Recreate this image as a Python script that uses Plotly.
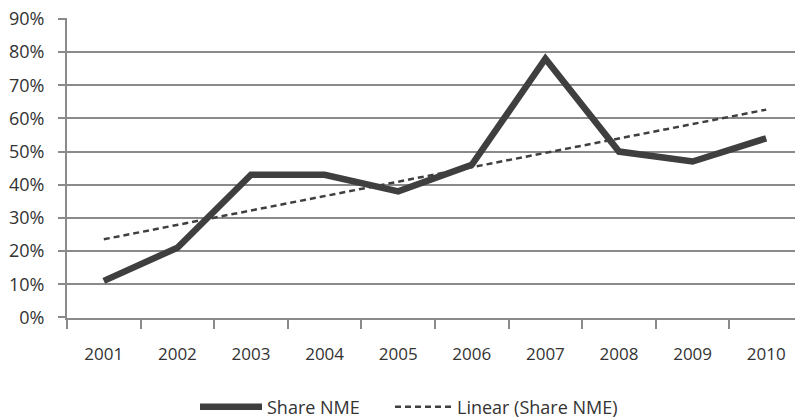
import numpy as np
import plotly.graph_objects as go

years = ["2001", "2002", "2003", "2004", "2005", "2006", "2007", "2008", "2009", "2010"]
share_nme = [0.11, 0.21, 0.43, 0.43, 0.38, 0.46, 0.78, 0.50, 0.47, 0.54]
y_ticks = [0, 0.1, 0.2, 0.3, 0.4, 0.5, 0.6, 0.7, 0.8, 0.9]
y_tick_labels = ["0%", "10%", "20%", "30%", "40%", "50%", "60%", "70%", "80%", "90%"]

x = np.arange(1, len(years) + 1)
slope, intercept = np.polyfit(x, share_nme, 1)
trend = slope * x + intercept

grid_col = "#8a8a8a"
line_col = "#3f3f3f"
text_col = "#333333"
font_fam = "Open Sans, Noto Sans, sans-serif"

fig = go.Figure()
fig.add_trace(go.Scatter(
    x=x, y=share_nme, mode="lines", name="Share NME",
    line=dict(color=line_col, width=6.5), legend="legend",
))
fig.add_trace(go.Scatter(
    x=x, y=trend, mode="lines", name="Linear (Share NME)",
    line=dict(color=line_col, width=2.5, dash="6px,4px"), legend="legend2",
))

legend_style = dict(
    orientation="h", xanchor="left",
    xref="container", yref="container", y=12 / 419, yanchor="middle",
    font=dict(size=18, color=text_col), itemwidth=62,
    bgcolor="rgba(0,0,0,0)",
)

fig.update_layout(
    width=795, height=419,
    margin=dict(l=67, r=0, t=18, b=101, autoexpand=False),
    paper_bgcolor="white", plot_bgcolor="white",
    font=dict(family=font_fam, size=16, color=text_col),
    showlegend=True,
    legend=dict(legend_style, x=195 / 795),
    legend2=dict(legend_style, x=390 / 795, itemwidth=57),
    xaxis=dict(
        range=[0.5, 0.5 + 728 / 73.6],
        tickvals=list(x), ticktext=years, ticks="",
        ticklabelstandoff=20, automargin=False,
        showgrid=False, zeroline=False,
        showline=True, linecolor=grid_col, linewidth=2,
        tickfont=dict(size=17, color=text_col),
        minor=dict(tickvals=[v + 0.5 for v in range(0, 11)], ticks="outside",
                   ticklen=9, tickcolor=grid_col, tickwidth=2, showgrid=False),
    ),
    yaxis=dict(
        range=[-0.002, 0.903],
        tickvals=y_ticks, ticktext=y_tick_labels,
        ticks="outside", ticklen=7, tickcolor=grid_col, tickwidth=2,
        ticklabelstandoff=10, automargin=False,
        showgrid=True, gridcolor=grid_col, gridwidth=2,
        zeroline=False, showline=True, linecolor=grid_col, linewidth=2,
        tickfont=dict(size=18, color=text_col),
    ),
)

fig.write_html("out.html")
